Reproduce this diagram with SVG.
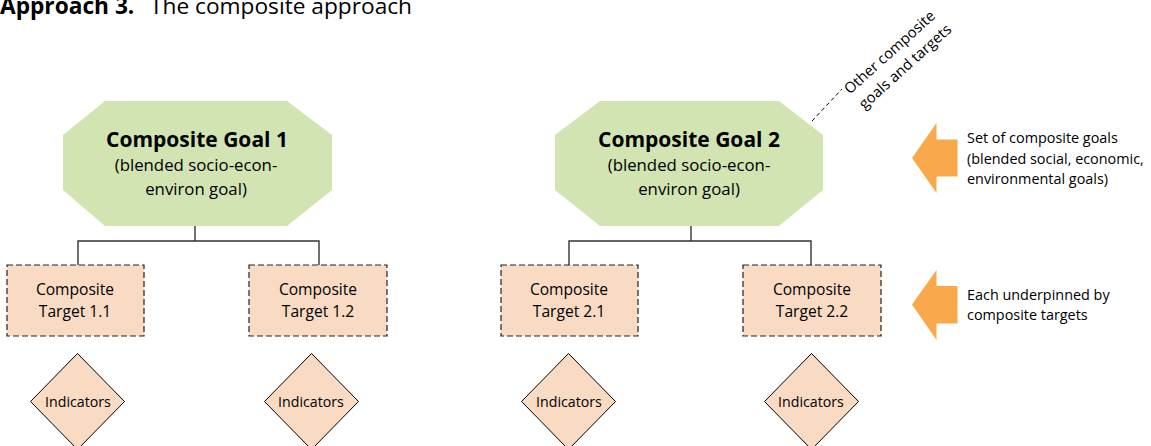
<svg xmlns="http://www.w3.org/2000/svg" width="1151" height="446" viewBox="0 0 1151 446">
<style>
text{font-family:"Open Sans","Noto Sans","Liberation Sans",sans-serif;fill:#000}
.goal{fill:#D2E4B1;stroke:none}
.gt{font-size:21px;font-weight:bold;text-anchor:middle}
.gs{font-size:16.8px;text-anchor:middle}
.tgt{fill:#F9DBC3;stroke:#222;stroke-width:1.2;stroke-dasharray:6,3}
.tt{font-size:15.6px;text-anchor:middle}
.ind{fill:#F9DBC3;stroke:#000;stroke-width:1}
.it{font-size:14.2px;text-anchor:middle}
.conn{fill:none;stroke:#333;stroke-width:1.4}
.arr{fill:#F9A94B;stroke:none}
.side{font-size:14.4px}
</style>
<rect width="1151" height="446" fill="#fff"/>
<text x="0" y="14" font-size="22.7px"><tspan font-weight="bold">Approach 3.</tspan><tspan x="150">The composite approach</tspan></text>

<g id="connectors">
<path class="conn" d="M195,226V241M78,265V241H319V265"/>
<path class="conn" d="M691,226V241M569,265V241H811V265"/>
<path fill="none" stroke="#000" stroke-width="1" stroke-dasharray="4,3" d="M812,121L842,89"/>
</g>

<g id="goal1">
<polygon class="goal" points="105,101 287,101 332,135 332,190 287,226 105,226 63,190 63,135"/>
<text class="gt" x="197" y="147">Composite Goal 1</text>
<text class="gs" x="196" y="171">(blended socio-econ-</text>
<text class="gs" x="196" y="195">environ goal)</text>
</g>
<g id="goal2">
<polygon class="goal" points="600,101 779,101 823,135 823,190 779,226 600,226 555,190 555,135"/>
<text class="gt" x="689" y="147">Composite Goal 2</text>
<text class="gs" x="689" y="171">(blended socio-econ-</text>
<text class="gs" x="689" y="195">environ goal)</text>
</g>

<g id="target11">
<rect class="tgt" x="7" y="265" width="137" height="71"/>
<text class="tt" x="75" y="295">Composite</text>
<text class="tt" x="75" y="317">Target 1.1</text>
</g>
<g id="target12">
<rect class="tgt" x="249" y="265" width="138" height="71"/>
<text class="tt" x="318" y="295">Composite</text>
<text class="tt" x="318" y="317">Target 1.2</text>
</g>
<g id="target21">
<rect class="tgt" x="501" y="265" width="137" height="71"/>
<text class="tt" x="569" y="295">Composite</text>
<text class="tt" x="569" y="317">Target 2.1</text>
</g>
<g id="target22">
<rect class="tgt" x="743" y="265" width="138" height="71"/>
<text class="tt" x="812" y="295">Composite</text>
<text class="tt" x="812" y="317">Target 2.2</text>
</g>

<g id="ind11">
<polygon class="ind" points="77.5,353.5 124.5,401.5 77.5,449.5 30.5,401.5"/>
<text class="it" x="78" y="407">Indicators</text>
</g>
<g id="ind12">
<polygon class="ind" points="311.5,353.5 358.5,401.5 311.5,449.5 264.5,401.5"/>
<text class="it" x="311" y="407">Indicators</text>
</g>
<g id="ind21">
<polygon class="ind" points="568.5,353.5 615.5,401.5 568.5,449.5 521.5,401.5"/>
<text class="it" x="569" y="407">Indicators</text>
</g>
<g id="ind22">
<polygon class="ind" points="811.5,353.5 858.5,401.5 811.5,449.5 764.5,401.5"/>
<text class="it" x="811" y="407">Indicators</text>
</g>

<g id="other">
<text font-size="14.8px" text-anchor="middle" transform="translate(893,56) rotate(-42)"><tspan x="0" y="0">Other composite</tspan><tspan x="2" y="21">goals and targets</tspan></text>
</g>

<g id="arrow-goals">
<polygon class="arr" points="912,158 936.5,123 936.5,139.5 957.5,139.5 957.5,176.5 936.5,176.5 936.5,193"/>
<text class="side" x="967" y="143">Set of composite goals</text>
<text class="side" x="967" y="163.5">(blended social, economic,</text>
<text class="side" x="967" y="184">environmental goals)</text>
</g>
<g id="arrow-targets">
<polygon class="arr" points="912,304.5 936.5,270 936.5,286 957.5,286 957.5,323.5 936.5,323.5 936.5,340"/>
<text class="side" x="967" y="299.5">Each underpinned by</text>
<text class="side" x="967" y="319.5">composite targets</text>
</g>
</svg>
